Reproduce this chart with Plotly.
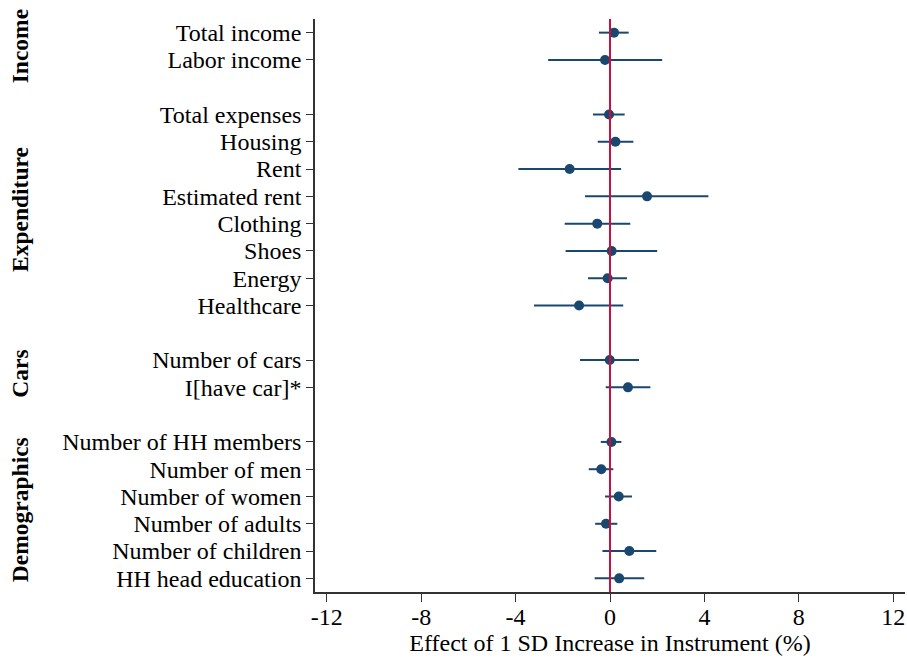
import plotly.graph_objects as go

# coefficient plot: effect of 1 SD increase in instrument
groups = ["Income", "Expenditure", "Cars", "Demographics"]
labels = [
    ["Total income", "Labor income"],
    ["Total expenses", "Housing", "Rent", "Estimated rent", "Clothing",
     "Shoes", "Energy", "Healthcare"],
    ["Number of cars", "I[have car]*"],
    ["Number of HH members", "Number of men", "Number of women",
     "Number of adults", "Number of children", "HH head education"],
]
coef = [
    [0.17, -0.21],
    [-0.04, 0.23, -1.71, 1.57, -0.54, 0.07, -0.10, -1.31],
    [-0.01, 0.76],
    [0.06, -0.37, 0.37, -0.17, 0.82, 0.39],
]
ci_low = [
    [-0.47, -2.62],
    [-0.72, -0.52, -3.88, -1.06, -1.92, -1.88, -0.93, -3.22],
    [-1.27, -0.18],
    [-0.39, -0.90, -0.21, -0.63, -0.32, -0.65],
]
ci_high = [
    [0.79, 2.21],
    [0.62, 0.99, 0.47, 4.17, 0.86, 2.00, 0.72, 0.56],
    [1.23, 1.71],
    [0.48, 0.14, 0.93, 0.31, 1.96, 1.45],
]
x_ticks = [-12, -8, -4, 0, 4, 8, 12]

NAVY = "#1a476f"
RED = "#c8103c"
FONT = "Liberation Serif"

# row positions, one empty row between groups
ys, xs, lo, hi, ticktext, group_mid = [], [], [], [], [], []
row = 0
for g, labs in enumerate(labels):
    start = row
    for i, lab in enumerate(labs):
        ys.append(row)
        xs.append(coef[g][i])
        lo.append(coef[g][i] - ci_low[g][i])
        hi.append(ci_high[g][i] - coef[g][i])
        ticktext.append(lab)
        row += 1
    group_mid.append((start + row - 1) / 2)
    row += 1

fig = go.Figure()
fig.add_trace(go.Scatter(
    x=xs, y=ys, mode="markers",
    marker=dict(color=NAVY, size=10),
    error_x=dict(type="data", symmetric=False, array=hi, arrayminus=lo,
                 color=NAVY, thickness=2, width=0),
    showlegend=False,
))

fig.add_shape(type="line", xref="x", yref="paper", x0=0, x1=0, y0=0, y1=1,
              line=dict(color=RED, width=2), layer="above")

for g, name in enumerate(groups):
    fig.add_annotation(text=f"<b>{name}</b>", x=-0.5, xref="paper", xanchor="center",
                       y=group_mid[g], yref="y", textangle=-90,
                       showarrow=False, font=dict(family=FONT, size=23.5, color="black"))

fig.update_layout(
    width=907, height=658,
    margin=dict(l=315, r=2, t=19, b=66),
    plot_bgcolor="white", paper_bgcolor="white",
    font=dict(family=FONT, size=24, color="black"),
)
fig.update_xaxes(
    range=[-12.5, 12.5], tickvals=x_ticks, ticktext=[str(v) for v in x_ticks],
    showgrid=False, zeroline=False, showline=True, linecolor="#333333", linewidth=1.5,
    ticks="outside", ticklen=8, tickcolor="#333333", ticklabelstandoff=-6,
    title=dict(text="Effect of 1 SD Increase in Instrument (%)", standoff=0,
               font=dict(size=24)),
)
fig.update_yaxes(
    range=[row - 1 - 0.5, -0.5], tickvals=ys, ticktext=ticktext,
    showgrid=False, zeroline=False, showline=True, linecolor="#333333", linewidth=1.5,
    ticks="outside", ticklen=7, tickcolor="#333333",
)

fig.write_html("out.html", config={"displayModeBar": False},
               post_script="document.body.style.margin='0';")
